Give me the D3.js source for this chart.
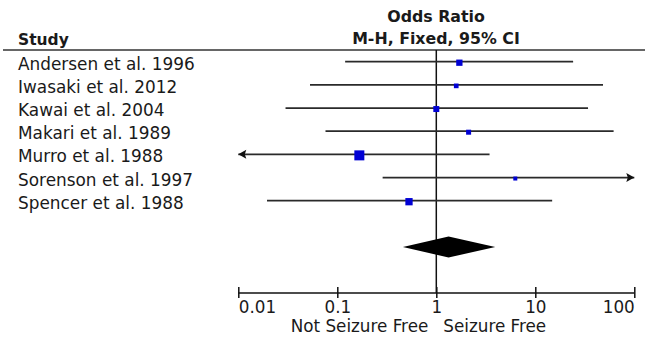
<!DOCTYPE html>
<html><head><meta charset="utf-8">
<script src="https://cdn.jsdelivr.net/npm/d3@7"></script>
<style>
html,body{margin:0;padding:0;background:#fff;}
svg{display:block;}
text{font-family:"DejaVu Sans",sans-serif;fill:#1a1a1a;}
</style></head>
<body>
<svg id="chart" width="645" height="339"></svg>
<script>
// ---- data ----
const studies = ["Andersen et al. 1996","Iwasaki et al. 2012","Kawai et al. 2004","Makari et al. 1989","Murro et al. 1988","Sorenson et al. 1997","Spencer et al. 1988"];
const oddsRatio = [1.71, 1.59, 1.0, 2.12, 0.167, 6.28, 0.53];
const ciLower   = [0.12, 0.053, 0.030, 0.076, 0.003, 0.287, 0.0195];
const ciUpper   = [24.1, 48.3, 34.1, 61.8, 3.45, 300, 14.8];
const weights   = [13.6, 7.5, 12.3, 8.6, 34.3, 5.5, 18.2];
const pooled    = {or: 1.33, lo: 0.46, hi: 3.94};
const tickValues = [0.01, 0.1, 1, 10, 100];
const tickLabels = ["0.01","0.1","1","10","100"];
const leftLabel = "Not Seizure Free";
const rightLabel = "Seizure Free";

const svg = d3.select("#chart");
const x = d3.scaleLog().domain([0.01, 100]).range([238.3, 634.3]);
const y = d3.scalePoint().domain(studies).range([61.7, 200.7]);
const size = d3.scaleSqrt().domain([0, d3.max(weights)]).range([0, 10]);
const axisY = 293, diamondY = 247, lineTop = 50;

// header
svg.append("text").attr("x", 18).attr("y", 45).attr("font-size", 15.5).attr("font-weight", "bold").text("Study");
svg.append("text").attr("x", 436).attr("y", 22).attr("text-anchor", "middle").attr("font-size", 15.8).attr("font-weight", "bold").text("Odds Ratio");
svg.append("text").attr("x", 436).attr("y", 44).attr("text-anchor", "middle").attr("font-size", 15.8).attr("font-weight", "bold").text("M-H, Fixed, 95% CI");
svg.append("line").attr("x1", 3).attr("x2", 645).attr("y1", 50).attr("y2", 50).attr("stroke", "#333").attr("stroke-width", 1.6);

// vertical line of no effect
svg.append("line").attr("x1", x(1)).attr("x2", x(1)).attr("y1", lineTop).attr("y2", axisY).attr("stroke", "#111").attr("stroke-width", 1.5);

// study labels
svg.append("g").selectAll("text").data(studies).join("text")
  .attr("x", 18).attr("y", d => y(d) + 8).attr("font-size", 16.9).text(d => d);

// CI lines with arrows
const [dMin, dMax] = x.domain();
const rows = studies.map((s, i) => ({s, or: oddsRatio[i], lo: ciLower[i], hi: ciUpper[i], w: weights[i]}));
const g = svg.append("g");
rows.forEach(r => {
  const yy = y(r.s);
  const x1 = x(Math.max(r.lo, dMin)), x2 = x(Math.min(r.hi, dMax));
  g.append("line").attr("x1", x1).attr("x2", x2).attr("y1", yy).attr("y2", yy).attr("stroke", "#2a2a2a").attr("stroke-width", 1.7);
  if (r.lo < dMin) {
    g.append("path").attr("d", `M${x1},${yy} l8,-4.5 l-1.5,4.5 l1.5,4.5 Z`).attr("fill", "#111");
  }
  if (r.hi > dMax) {
    g.append("path").attr("d", `M${x2},${yy} l-8,-4.5 l1.5,4.5 l-1.5,4.5 Z`).attr("fill", "#111");
  }
});
// squares
g.selectAll("rect").data(rows).join("rect")
  .attr("x", d => x(d.or) - size(d.w) / 2)
  .attr("y", d => y(d.s) - size(d.w) / 2 + 1)
  .attr("width", d => size(d.w)).attr("height", d => size(d.w))
  .attr("fill", "#0000d4");

// pooled diamond
svg.append("path")
  .attr("d", `M${x(pooled.lo)},${diamondY} L${x(pooled.or)},${diamondY - 10.5} L${x(pooled.hi)},${diamondY} L${x(pooled.or)},${diamondY + 10.5} Z`)
  .attr("fill", "#000");

// axis
const axis = d3.axisBottom(x).tickValues(tickValues).tickSize(5).tickFormat((d, i) => tickLabels[i]);
const ax = svg.append("g").attr("transform", `translate(0,${axisY})`).call(axis);
ax.select(".domain").attr("stroke", "#111").attr("stroke-width", 1.5).attr("d", `M${x(dMin)},0H${x(dMax)}`);
ax.selectAll(".tick line").attr("y1", -6).attr("y2", 5).attr("stroke", "#111").attr("stroke-width", 1.5);
ax.selectAll(".tick text")
  .attr("y", 20).attr("dy", 0)
  .attr("font-family", "DejaVu Sans").attr("font-size", 16.8).attr("fill", "#1a1a1a")
  .attr("text-anchor", (d, i) => i === 0 ? "start" : (i === tickValues.length - 1 ? "end" : "middle"));

svg.append("text").attr("x", x(1) - 8).attr("y", 332).attr("text-anchor", "end").attr("font-size", 16.8).text(leftLabel);
svg.append("text").attr("x", x(1) + 7).attr("y", 332).attr("font-size", 16.8).text(rightLabel);
</script>
</body></html>
